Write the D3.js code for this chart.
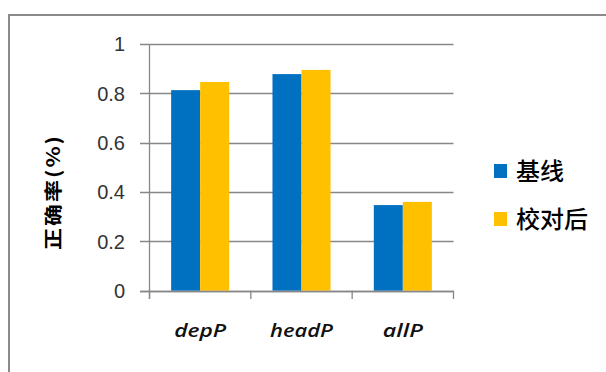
<!DOCTYPE html>
<html><head><meta charset="utf-8">
<script src="https://cdn.jsdelivr.net/npm/d3@7"></script>
<style>html,body{margin:0;padding:0;background:#fff;overflow:hidden}</style>
</head><body>
<svg id="c" width="606" height="372"></svg>
<script>
const categories = ["depP", "headP", "allP"];
const seriesNames = ["基线", "校对后"];
const baseline = [0.813, 0.878, 0.347];
const corrected = [0.846, 0.895, 0.360];
const yTicks = [0, 0.2, 0.4, 0.6, 0.8, 1];
const yTickLabels = ["0", "0.2", "0.4", "0.6", "0.8", "1"];
const colors = ["#0070C0", "#FFC000"];
const yTitle = "正确率(%)";

const svg = d3.select("#c");
// outer frame
svg.append("rect").attr("x", 9).attr("y", 15).attr("width", 620).attr("height", 380)
  .attr("fill", "none").attr("stroke", "#8a8a8a").attr("stroke-width", 2);

const x0 = d3.scaleBand().domain(categories).range([149.5, 453.5]).paddingInner(0).paddingOuter(0);
const x1 = d3.scaleBand().domain(seriesNames).range([0, x0.bandwidth()]).paddingInner(0).paddingOuter(0.746);
const y = d3.scaleLinear().domain([0, 1]).range([290.7, 44]);

// gridlines
svg.append("g").selectAll("line").data(yTicks).join("line")
  .attr("x1", 140).attr("x2", 453.5)
  .attr("y1", d => Math.round(y(d)) + 0.5).attr("y2", d => Math.round(y(d)) + 0.5)
  .attr("stroke", "#878787").attr("stroke-width", 1.3);

// y axis line
svg.append("line").attr("x1", 149.5).attr("x2", 149.5).attr("y1", y(1)).attr("y2", 299)
  .attr("stroke", "#878787").attr("stroke-width", 1.3);

// bars
const data = categories.map((c, i) => ({c, vals: [baseline[i], corrected[i]]}));
const g = svg.append("g").selectAll("g").data(data).join("g")
  .attr("transform", d => `translate(${x0(d.c)},0)`);
g.selectAll("rect").data(d => d.vals.map((v, j) => ({s: seriesNames[j], v, j}))).join("rect")
  .attr("x", d => x1(d.s)).attr("width", x1.bandwidth())
  .attr("y", d => y(d.v)).attr("height", d => y(0) - y(d.v))
  .attr("fill", d => colors[d.j]);

// x axis line and ticks
svg.append("line").attr("x1", 140).attr("x2", 453.5).attr("y1", Math.round(y(0)) + 0.5).attr("y2", Math.round(y(0)) + 0.5)
  .attr("stroke", "#878787").attr("stroke-width", 1.3);
const xt = categories.map(c => x0(c)).concat([x0(categories[categories.length-1]) + x0.bandwidth()]);
svg.append("g").selectAll("line").data(xt).join("line")
  .attr("x1", d => d).attr("x2", d => d).attr("y1", y(0)).attr("y2", 299)
  .attr("stroke", "#878787").attr("stroke-width", 1.3);

// y tick labels
svg.append("g").selectAll("text").data(yTicks).join("text")
  .attr("x", 125).attr("y", d => y(d)).attr("dy", "0.36em")
  .attr("text-anchor", "end").attr("font-family", "Liberation Sans, Arial, sans-serif")
  .attr("font-size", 20).attr("fill", "#333")
  .text((d, i) => yTickLabels[i]);

// x labels
const xLens = [52, 63, 40];
svg.append("g").selectAll("text").data(categories).join("text")
  .attr("x", d => x0(d) + x0.bandwidth() / 2).attr("y", 337)
  .attr("text-anchor", "middle").attr("font-family", "Open Sans, sans-serif")
  .attr("font-style", "italic").attr("font-weight", 600).attr("font-size", 18)
  .attr("fill", "#111")
  .attr("textLength", (d, i) => xLens[i]).attr("lengthAdjust", "spacingAndGlyphs")
  .text(d => d);

// y title
svg.append("text")
  .attr("transform", "translate(60,192) scale(0.85,1) rotate(-90)")
  .attr("text-anchor", "middle")
  .attr("font-family", "Noto Sans CJK SC, sans-serif").attr("font-weight", 700)
  .attr("font-size", 22).attr("letter-spacing", 2).attr("fill", "#000")
  .text(yTitle);

// legend
const leg = svg.append("g").selectAll("g").data(seriesNames).join("g")
  .attr("transform", (d, i) => `translate(494,${164 + i * 48})`);
leg.append("rect").attr("width", 13).attr("height", 14).attr("fill", (d, i) => colors[i]);
leg.append("text").attr("x", 22).attr("y", 7).attr("dy", "0.36em")
  .attr("font-family", "Noto Sans CJK SC, sans-serif").attr("font-size", 24).attr("font-weight", 500)
  .attr("fill", "#000").text(d => d);
</script>
</body></html>
